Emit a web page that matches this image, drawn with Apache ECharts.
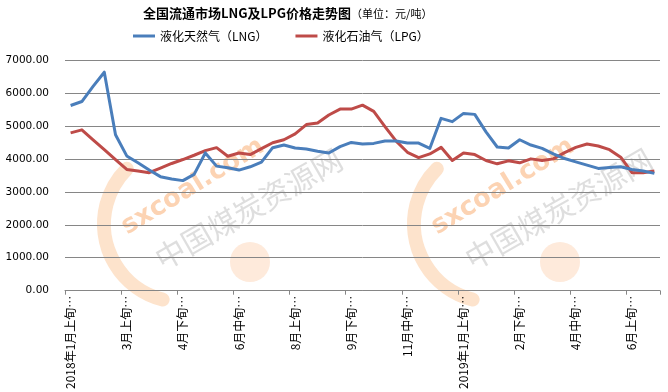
<!DOCTYPE html>
<html>
<head>
<meta charset="utf-8">
<script src="https://cdn.jsdelivr.net/npm/echarts@6/dist/echarts.min.js"></script>
<style>html,body{margin:0;padding:0;background:#fff}#c{width:668px;height:392px}</style>
</head>
<body>
<div id="c"></div>
<script>
var categories = [
  "2018年1月上旬","1月中旬","1月下旬","2月上旬","2月下旬",
  "3月上旬","3月中旬","3月下旬","4月上旬","4月中旬","4月下旬",
  "5月上旬","5月中旬","5月下旬","6月上旬","6月中旬","6月下旬",
  "7月上旬","7月中旬","7月下旬","8月上旬","8月中旬","8月下旬",
  "9月上旬","9月中旬","9月下旬","10月上旬","10月中旬","10月下旬",
  "11月上旬","11月中旬","11月下旬","12月上旬","12月中旬","12月下旬",
  "2019年1月上旬","1月中旬","1月下旬","2月上旬","2月中旬","2月下旬",
  "3月上旬","3月中旬","3月下旬","4月上旬","4月中旬","4月下旬",
  "5月上旬","5月中旬","5月下旬","6月上旬","6月中旬","6月下旬"
];
var lngValues = [
  5620,5740,6200,6630,4730,4090,3880,3660,3460,3390,3340,
  3530,4180,3780,3730,3660,3760,3900,4340,4420,4330,4300,
  4230,4180,4370,4500,4450,4470,4540,4540,4480,4480,4320,
  5230,5130,5380,5350,4820,4360,4330,4580,4420,4320,4150,
  4010,3910,3810,3710,3740,3760,3680,3630,3560
];
var lpgValues = [
  4790,4880,4580,4280,3980,3680,3630,3580,3720,3860,3980,
  4110,4250,4340,4080,4180,4130,4310,4490,4580,4760,5040,
  5090,5330,5510,5510,5630,5440,4980,4540,4200,4040,4150,
  4350,3950,4180,4130,3950,3850,3940,3880,4000,3950,4000,
  4190,4350,4450,4390,4280,4050,3580,3580,3630
];
var seriesNames = ["液化天然气（LNG）","液化石油气（LPG）"];
var titleMain = "全国流通市场LNG及LPG价格走势图";
var titleUnit = "（单位：元/吨）";
var yTicks = [0,1000,2000,3000,4000,5000,6000,7000];

var FONT = "'Noto Sans CJK SC', 'DejaVu Sans', sans-serif";
var chart = echarts.init(document.getElementById('c'), null, {renderer: 'canvas'});

function watermark(dx) {
  return [
    {type:'arc', z:0, silent:true,
     shape:{cx:182+dx, cy:224, r:78, startAngle:Math.PI*0.58, endAngle:Math.PI*1.25},
     style:{stroke:'#fde3cc', lineWidth:14, fill:null, lineCap:'round'}},
    {type:'circle', z:0, silent:true,
     shape:{cx:250+dx, cy:262, r:20},
     style:{fill:'#feeadb'}},
    {type:'text', z:0, silent:true, x:117+dx, y:218, rotation:0.55,
     style:{text:'sxcoal.com', fill:'#fcd3b3', textBaseline:'alphabetic',
            font:"bold 26px 'DejaVu Sans', sans-serif"}},
    {type:'text', z:0, silent:true, x:150+dx, y:248, rotation:0.52,
     style:{text:'中国煤炭资源网', fill:'rgba(160,160,160,0.35)', textBaseline:'alphabetic',
            font:"30px 'Noto Sans CJK SC', sans-serif"}}
  ];
}

var option = {
  animation: false,
  backgroundColor: '#ffffff',
  title: {
    left: 138, top: 2,
    text: '{b|' + titleMain + '}{n|' + titleUnit + '}',
    textStyle: {
      rich: {
        b: {fontSize: 13, fontWeight: 'bold', color: '#000', fontFamily: FONT},
        n: {fontSize: 11, fontWeight: 'normal', color: '#000', fontFamily: FONT}
      }
    }
  },
  legend: {
    left: 128, top: 25,
    itemWidth: 22, itemHeight: 3, itemGap: 28,
    icon: 'rect',
    textStyle: {fontSize: 12, color: '#000', fontFamily: FONT},
    data: seriesNames
  },
  grid: {left: 65, right: 8, top: 60, bottom: 98, containLabel: false},
  graphic: watermark(0).concat(watermark(310)),
  xAxis: {
    type: 'category',
    data: categories,
    boundaryGap: true,
    axisLine: {show: true, lineStyle: {color: '#868686', width: 1}},
    axisTick: {show: true, interval: 4, length: 4, inside: false, lineStyle: {color: '#868686'}},
    axisLabel: {
      interval: 4, rotate: 90, margin: 5,
      fontSize: 12, color: '#000', fontFamily: FONT,
      formatter: function (v) { return v + '…'; }
    },
    splitLine: {show: false}
  },
  yAxis: {
    type: 'value',
    min: yTicks[0], max: yTicks[yTicks.length - 1], interval: 1000,
    axisLine: {show: false},
    axisTick: {show: false},
    axisLabel: {
      margin: 16, fontSize: 10.5, color: '#000', fontFamily: "'DejaVu Sans', sans-serif",
      formatter: function (v) { return v.toFixed(2); }
    },
    splitLine: {show: true, lineStyle: {color: '#868686', width: 1}}
  },
  series: [
    {
      name: seriesNames[0], type: 'line', data: lngValues,
      showSymbol: false, symbol: 'none', z: 3,
      lineStyle: {color: '#4A7EBB', width: 3, join: 'round'},
      itemStyle: {color: '#4A7EBB'}
    },
    {
      name: seriesNames[1], type: 'line', data: lpgValues,
      showSymbol: false, symbol: 'none', z: 2,
      lineStyle: {color: '#BE4B48', width: 3, join: 'round'},
      itemStyle: {color: '#BE4B48'}
    }
  ]
};
chart.setOption(option);
</script>
</body>
</html>
